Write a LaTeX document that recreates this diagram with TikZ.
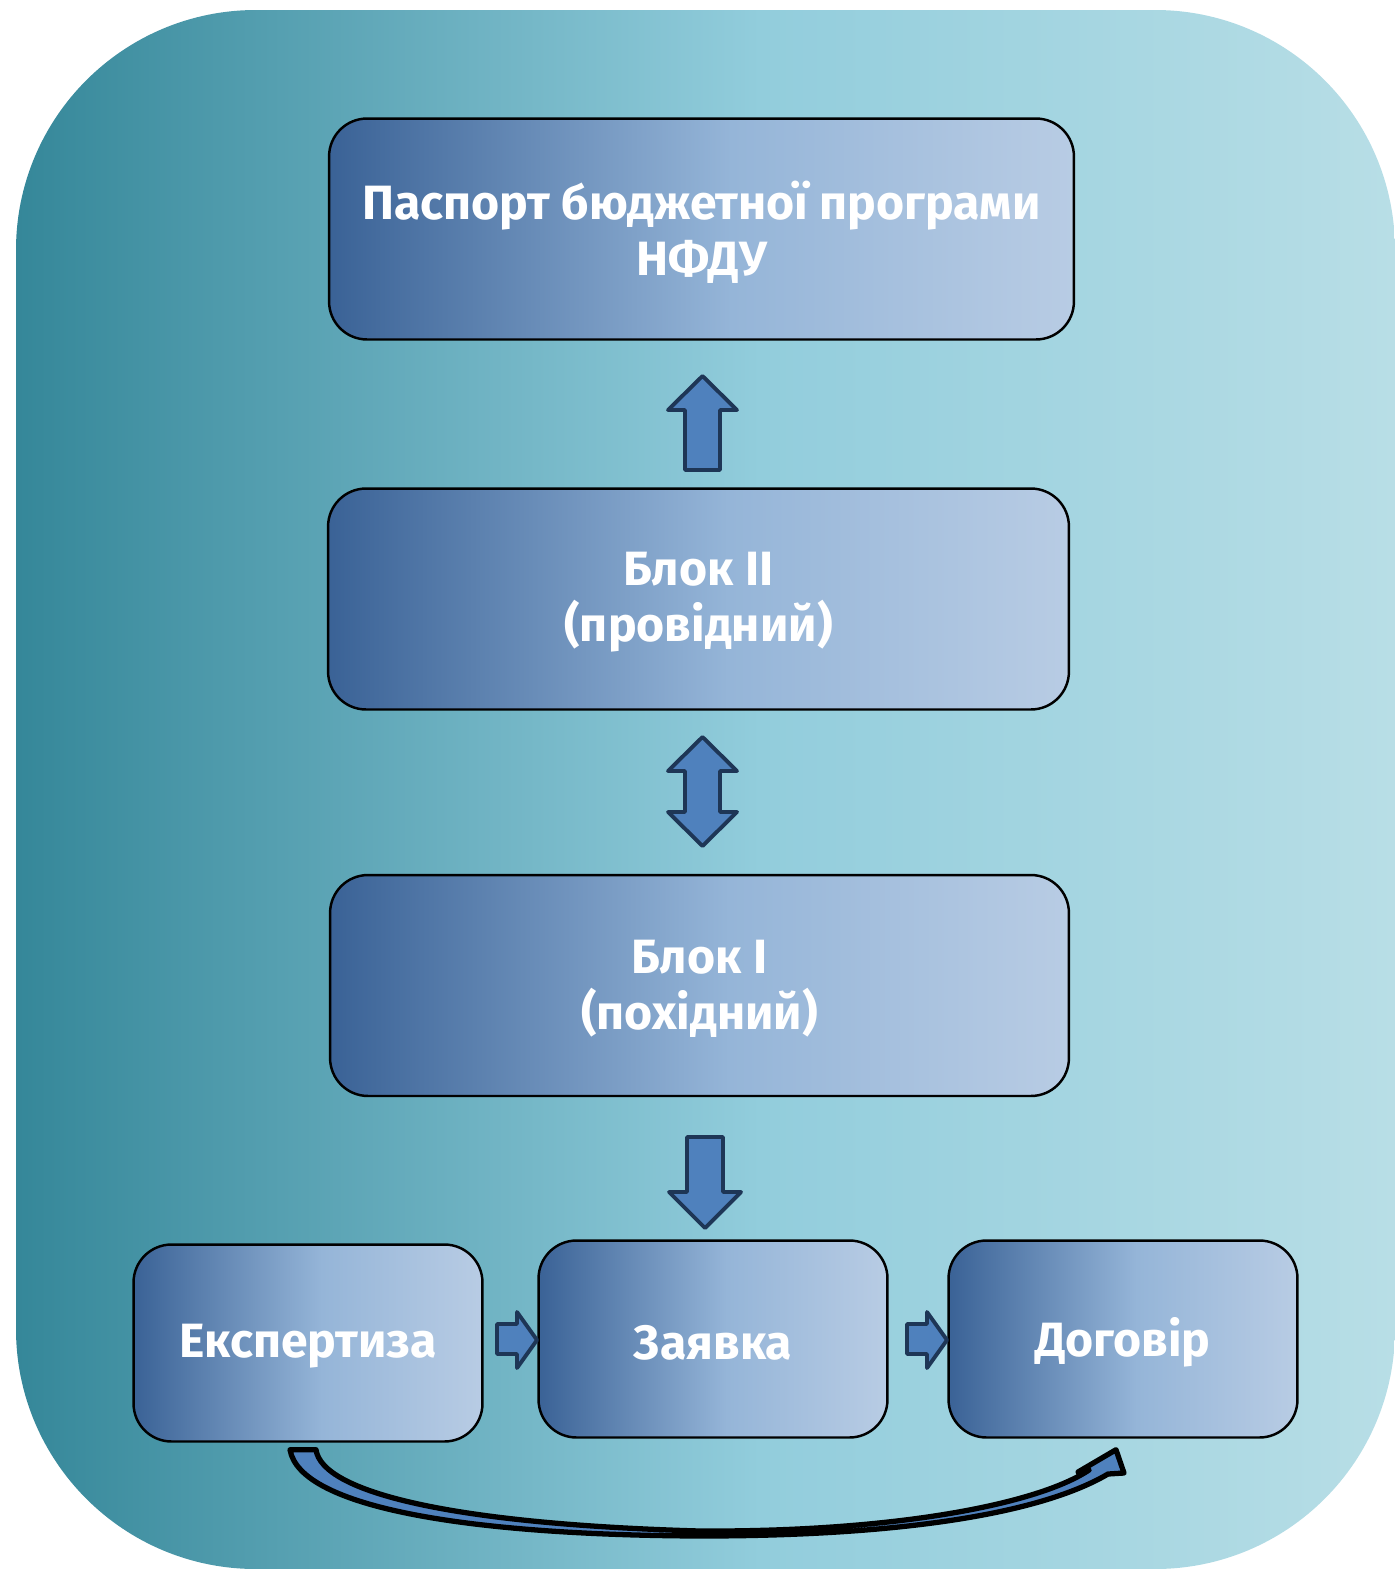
\documentclass[tikz,border=0pt]{standalone}
\usepackage{fontspec}
\setmainfont{Fira Sans}
\usetikzlibrary{calc}

\definecolor{bgA}{RGB}{53,135,153}
\definecolor{bgB}{RGB}{146,205,220}
\definecolor{bgC}{RGB}{184,222,230}
\definecolor{bxA}{RGB}{58,98,150}
\definecolor{bxB}{RGB}{149,181,216}
\definecolor{bxC}{RGB}{184,204,228}
\definecolor{arrfill}{RGB}{79,129,189}
\definecolor{arrdraw}{RGB}{30,54,86}

\pgfdeclarehorizontalshading{bggrad}{100bp}{color(0bp)=(bgA); color(25bp)=(bgA); color(52bp)=(bgB); color(75bp)=(bgC); color(100bp)=(bgC)}
\pgfdeclarehorizontalshading{boxgrad}{100bp}{color(0bp)=(bxA); color(25bp)=(bxA); color(52bp)=(bxB); color(75bp)=(bxC); color(100bp)=(bxC)}

\newcommand{\nudge}[1]{\raisebox{-2pt}[\height][\depth]{#1}}

\tikzset{
  blok/.style={draw=black, line width=1.4pt, rounded corners=0.76cm, shading=boxgrad,
    text=white, font=\fontsize{27.4}{32}\selectfont\bfseries, align=center, inner sep=0pt},
  bigblok/.style={blok, minimum width=14.9cm, minimum height=4.42cm},
  smallblok/.style={blok, minimum width=6.98cm, minimum height=3.94cm},
  blockarrow/.style={fill=arrfill, draw=arrdraw, line width=2.2pt, line join=round},
}

\begin{document}
\begin{tikzpicture}[x=0.02cm, y=-0.02cm]
\useasboundingbox (0,0) rectangle (1395,1569);
% background
\shade[shading=bggrad, rounded corners=4.8cm] (16,10) rectangle (1395,1569);

% blocks
\node[bigblok] (pasport) at (701.5,229) {\nudge{Паспорт бюджетної програми}\\\nudge{НФДУ}};
\node[bigblok, minimum width=14.82cm] (blok2) at (698.5,599) {\nudge{Блок II}\\\nudge{(провідний)}};
\node[bigblok, minimum width=14.78cm] (blok1) at (699.5,985.5) {\nudge{Блок I}\\\nudge{(похідний)}};
\node[smallblok] (eksp) at (308,1343) {\nudge{Експертиза}};
\node[smallblok] (zayavka) at (713,1339) {\nudge{Заявка}};
\node[smallblok] (dogovir) at (1123,1339) {\nudge{Договір}};

% block arrows
\draw[blockarrow] (685,470) -- (685,410) -- (668,410) -- (702.5,376) -- (737,410) -- (720,410) -- (720,470) -- cycle;
\draw[blockarrow] (702.5,737) -- (737,771) -- (720,771) -- (720,812) -- (737,812) -- (702.5,846)
  -- (668,812) -- (685,812) -- (685,771) -- (668,771) -- cycle;
\draw[blockarrow] (687,1137) -- (723,1137) -- (723,1192) -- (741,1192) -- (705,1228) -- (669,1192) -- (687,1192) -- cycle;
\draw[blockarrow] (497,1324) -- (517,1324) -- (517,1312) -- (537,1340) -- (517,1368) -- (517,1354) -- (497,1354) -- cycle;
\draw[blockarrow] (907,1324) -- (927,1324) -- (927,1312) -- (947,1340) -- (927,1368) -- (927,1354) -- (907,1354) -- cycle;

% curved arrow
\coordinate (tailL) at ($(eksp.south)+(-18,7)$);
\coordinate (tailR) at ($(eksp.south)+(8,7)$);
\coordinate (headT) at ($(dogovir.south)+(-7,11)$);
\draw[fill=arrfill, draw=black, line width=3pt, line join=round]
  (tailL) -- (tailR) .. controls (322,1492) and (450,1524) .. (700,1531)
  .. controls (900,1532) and (1040,1503) .. (1089,1470) -- (1078,1472) -- (headT)
  -- (1124,1473) -- (1108,1474) .. controls (1040,1514) and (900,1536) .. (700,1536)
  .. controls (470,1535) and (300,1508) .. (tailL) -- cycle;
\end{tikzpicture}
\end{document}
